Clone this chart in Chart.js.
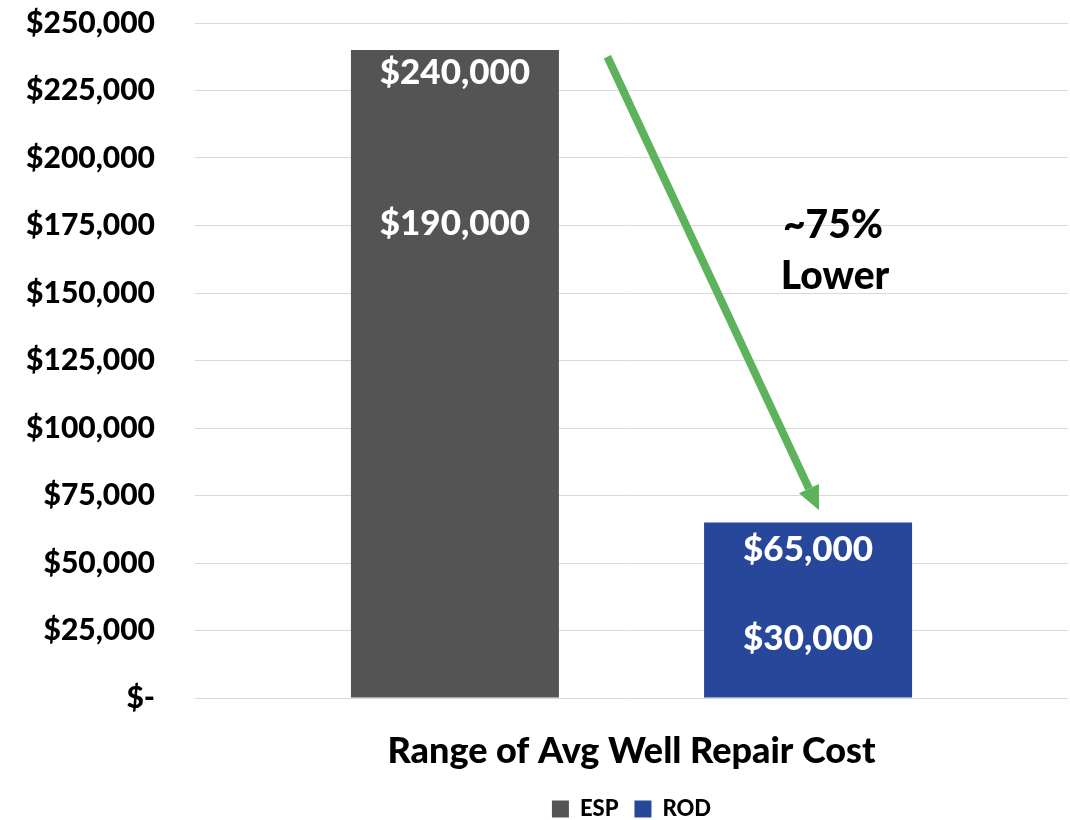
<!DOCTYPE html>
<html>
<head>
<meta charset="utf-8">
<script src="https://cdn.jsdelivr.net/npm/chart.js@4/dist/chart.umd.min.js"></script>
<style>
  html, body { margin: 0; padding: 0; background: #fff; }
  #wrap { width: 1070px; height: 820px; }
</style>
</head>
<body>
<div id="wrap"><canvas id="costChart" width="1070" height="820"></canvas></div>
<script>
// ---- data ----
const categories = ['Range of Avg Well Repair Cost'];
const seriesNames = ['ESP', 'ROD'];
const espValues = [240000];
const rodValues = [65000];
// range labels shown inside each bar (high, low)
const espRange = [240000, 190000];
const rodRange = [65000, 30000];
const noteLines = ['~75%', 'Lower'];
// arrow runs from near the ESP top down to just above the ROD top
const arrowFrom = 237500;
const arrowTo = 69500;

const FONT = "Lato, 'Open Sans', sans-serif";
const W = '900';

function money(v) {
    if (v === 0) return '$-';
    return '$' + v.toLocaleString('en-US');
}

// push the legend a little lower, closer to the bottom edge
const legendShift = {
    id: 'legendShift',
    afterLayout(chart) {
        chart.legend.top += 10;
        chart.legend.bottom += 10;
    }
};

// labels + arrow + note drawn on top of the bars
const overlayPlugin = {
    id: 'overlay',
    afterDatasetsDraw(chart) {
        const ctx = chart.ctx;
        const y = chart.scales.y;
        const esp = chart.getDatasetMeta(0).data[0];
        const rod = chart.getDatasetMeta(1).data[0];

        ctx.save();
        ctx.fillStyle = '#ffffff';
        ctx.font = W + ' 35px ' + FONT;
        ctx.textAlign = 'center';
        ctx.textBaseline = 'middle';
        // value labels sit just under the value they name
        ctx.fillText(money(espRange[0]), esp.x, y.getPixelForValue(espRange[0]) + 23);
        ctx.fillText(money(espRange[1]), esp.x, y.getPixelForValue(espRange[1]) + 39);
        ctx.fillText(money(rodRange[0]), rod.x, y.getPixelForValue(rodRange[0]) + 27);
        ctx.fillText(money(rodRange[1]), rod.x, y.getPixelForValue(rodRange[1]) + 22);

        // arrow
        const bw = esp.width;
        const x1 = esp.x + bw * 0.733, y1 = y.getPixelForValue(arrowFrom);
        const x2 = rod.x + bw * 0.053, y2 = y.getPixelForValue(arrowTo);
        const ang = Math.atan2(y2 - y1, x2 - x1);
        const headLen = 24, headW = 11;
        const bx = x2 - Math.cos(ang) * headLen, by = y2 - Math.sin(ang) * headLen;
        ctx.strokeStyle = '#5cb35c';
        ctx.fillStyle = '#5cb35c';
        ctx.lineWidth = 8;
        ctx.beginPath();
        ctx.moveTo(x1, y1);
        ctx.lineTo(bx, by);
        ctx.stroke();
        ctx.beginPath();
        ctx.moveTo(x2, y2);
        ctx.lineTo(bx + Math.sin(ang) * headW, by - Math.cos(ang) * headW);
        ctx.lineTo(bx - Math.sin(ang) * headW, by + Math.cos(ang) * headW);
        ctx.closePath();
        ctx.fill();

        // note
        ctx.fillStyle = '#000000';
        ctx.font = W + ' 39px ' + FONT;
        const nx = rod.x + bw * 0.12;
        ctx.fillText(noteLines[0], nx, y.getPixelForValue(175000));
        ctx.fillText(noteLines[1], nx + 2, y.getPixelForValue(156000));
        ctx.restore();
    }
};

new Chart(document.getElementById('costChart'), {
    type: 'bar',
    data: {
        labels: categories,
        datasets: [
            { label: seriesNames[0], data: espValues, backgroundColor: '#545454' },
            { label: seriesNames[1], data: rodValues, backgroundColor: '#27479a' }
        ]
    },
    options: {
        responsive: false,
        animation: false,
        layout: { padding: { top: 0, right: 2, left: 0, bottom: 0 } },
        datasets: {
            bar: { categoryPercentage: 0.809, barPercentage: 0.589 }
        },
        plugins: {
            legend: {
                position: 'bottom',
                fullSize: false,
                labels: {
                    color: '#000',
                    font: { family: FONT, size: 22, weight: W },
                    boxWidth: 17,
                    boxHeight: 17,
                    padding: 16
                }
            },
            tooltip: { enabled: false }
        },
        scales: {
            x: {
                grid: { display: false },
                border: { display: false },
                ticks: {
                    color: '#000',
                    padding: 24,
                    font: { family: FONT, size: 36, weight: W }
                },
                afterFit(scale) { scale.height = 74; }
            },
            y: {
                min: 0,
                max: 250000,
                grid: { color: '#d9d9d9', lineWidth: 1, drawTicks: false },
                border: { display: false },
                ticks: {
                    stepSize: 25000,
                    color: '#000',
                    padding: 40,
                    font: { family: FONT, size: 30, weight: W },
                    callback: v => money(v)
                },
                afterFit(scale) { scale.width = 195; scale.paddingTop = 23; scale.paddingBottom = 0; }
            }
        }
    },
    plugins: [legendShift, overlayPlugin]
});
</script>
</body>
</html>
